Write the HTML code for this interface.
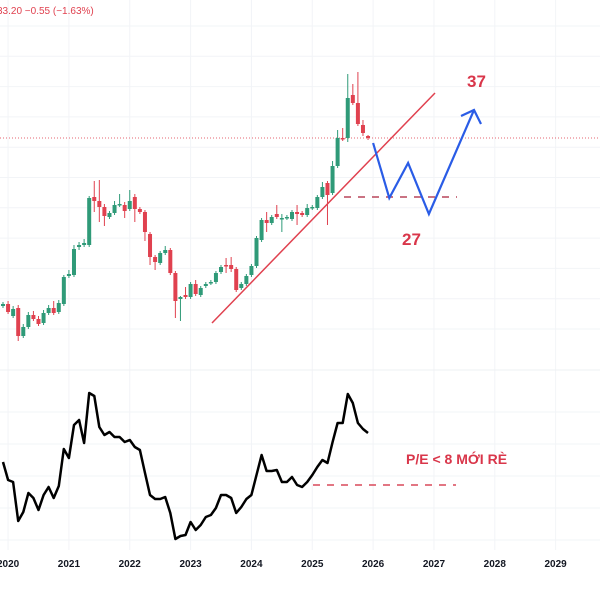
<!DOCTYPE html>
<html><head><meta charset="utf-8"><style>
html,body{margin:0;padding:0;background:#fff;}
svg{display:block;font-family:"Liberation Sans",sans-serif;}
</style></head><body>
<svg id="chart" width="600" height="600" viewBox="0 0 600 600" xmlns="http://www.w3.org/2000/svg">
<rect width="600" height="600" fill="#fff"/>
<g id="grid"></g>
<g id="candles"></g>
<g id="pe"></g>
<g id="annot"></g>
<g id="axis"></g>
<text x="-3" y="14" font-size="10" fill="#e0414f">33.20  −0.55 (−1.63%)</text>
</svg>
<script>
// data (monthly, Dec 2019 .. Dec 2025)
const years = ["2020","2021","2022","2023","2024","2025","2026","2027","2028","2029"];
const opens = [16.4,16.6,15.4,16.2,13.4,14.3,15.5,15.1,14.7,15.7,16.2,15.8,16.6,19.4,19.5,22.3,22.5,22.5,27.3,26.9,26.3,25.3,25.7,26.5,26.5,26.1,27.3,26.1,25.8,23.6,21.3,20.7,21.7,22.0,19.7,17.1,17.5,17.3,18.6,17.5,18.4,18.7,18.8,19.8,20.5,20.5,20.1,18.2,18.6,19.5,20.4,23.0,25.0,24.7,25.6,25.1,25.2,25.1,25.8,25.7,25.5,26.2,26.2,27.3,28.7,27.7,30.4,33.2,33.2,37.5,36.7,34.5,33.4];
const closes = [16.6,15.8,16.1,13.4,14.3,15.5,15.1,14.6,15.7,16.2,15.7,16.7,19.3,19.6,22.1,22.5,22.7,27.2,26.9,26.3,25.4,25.7,26.5,26.6,25.9,26.9,26.1,25.8,23.8,21.3,20.8,21.7,22.0,19.7,16.9,17.3,17.3,18.6,17.6,18.2,18.6,18.8,19.7,20.3,20.4,20.1,18.0,18.6,19.4,20.4,23.2,25.0,24.7,25.3,25.3,25.2,25.3,25.8,25.6,25.5,26.2,26.3,27.3,28.3,27.5,30.4,33.2,33.1,37.2,36.7,34.6,33.7,33.2];
const highs = [16.8,16.9,16.4,16.5,14.6,15.8,15.9,15.4,16.0,16.5,16.9,17.0,19.5,20.0,22.5,22.8,23.1,27.4,28.9,29.0,26.6,25.9,26.9,27.6,26.8,28.0,27.6,26.3,26.0,23.8,21.5,21.9,22.4,22.2,19.9,17.4,18.3,18.8,19.0,18.4,18.8,19.0,19.9,20.5,21.2,21.3,20.3,18.8,19.6,20.6,23.4,25.2,25.8,25.5,26.5,25.6,25.5,26.0,26.5,25.9,26.6,26.5,27.5,28.8,28.9,30.9,34.0,34.2,39.6,38.6,39.8,35.0,33.5];
const lows = [16.2,15.6,15.2,12.9,13.2,14.1,14.9,14.4,14.5,15.5,15.5,15.6,16.4,19.2,19.3,22.0,22.3,22.3,25.8,24.8,24.4,25.1,25.5,26.3,25.2,25.9,24.8,25.6,22.9,20.5,20.0,20.5,21.5,19.5,15.2,14.9,17.1,17.1,17.4,17.3,18.2,18.5,18.6,19.6,19.7,19.8,17.8,18.0,18.4,19.3,20.2,22.8,23.8,24.5,25.1,23.8,25.0,24.9,24.5,25.3,25.3,26.0,26.0,27.1,24.5,27.5,30.2,32.9,32.8,36.5,34.4,33.4,33.0];
const peValues = [10.3,8.5,8.3,4.4,5.3,7.2,6.7,5.5,7.0,7.8,6.7,7.9,11.6,10.7,14.0,14.5,12.2,17.2,16.9,13.8,13.0,13.3,12.8,12.8,12.3,12.5,11.8,11.5,9.2,7.0,6.6,6.6,6.8,5.2,2.6,2.9,3.0,4.3,3.5,4.0,4.8,5.0,5.7,7.0,7.0,6.7,5.2,5.8,6.6,7.0,9.0,11.0,9.4,9.4,9.5,8.3,8.3,8.8,8.0,7.8,8.3,9.0,9.8,10.5,10.2,12.3,14.2,14.2,17.1,16.2,14.2,13.6,13.2];
const lastPrice = 33.2, targetHigh = 37, targetLow = 27, peThreshold = 8;
const forecastMonths = [0,3.2,6.9,11,19.9];      // months after last candle
const forecastPrices = [32.7,27.2,30.7,25.6,36.0];

const NS="http://www.w3.org/2000/svg";
const xM = i => 3 + i*5.07;            // month index -> x
const yP = p => 470 - p*10;            // price -> y
const yE = v => 565 - v*10;            // P/E -> y
function mk(tag, attrs, parent){const e=document.createElementNS(NS,tag);for(const k in attrs)e.setAttribute(k,attrs[k]);parent.appendChild(e);return e;}
const grid=document.getElementById('grid'), cg=document.getElementById('candles'), pg=document.getElementById('pe'), ag=document.getElementById('annot'), xg=document.getElementById('axis');

// grid
for(let y=26;y<=340;y+=30.3){const l=mk('line',{x1:0,x2:600,y1:y,y2:y,stroke:'#f2f4f7','stroke-width':1},grid);

}
for(let y=412;y<=545;y+=32){const l=mk('line',{x1:0,x2:600,y1:y,y2:y,stroke:'#f2f4f7','stroke-width':1},grid);

}
years.forEach((yr,k)=>{const x=xM(1+k*12);
const l=mk('line',{x1:x,x2:x,y1:0,y2:550,stroke:'#f2f4f7','stroke-width':1},grid);


const t=mk('text',{x:x,y:567,'text-anchor':'middle','font-size':10,'font-weight':'bold',fill:'#131722'},xg);t.textContent=yr;

});
const sep=mk('line',{x1:0,x2:600,y1:370,y2:370,stroke:'#eef0f3','stroke-width':1},grid);



// last price dotted line
const lp=mk('line',{x1:0,x2:600,y1:yP(lastPrice),y2:yP(lastPrice),stroke:'#e0414f','stroke-width':1,'stroke-dasharray':'1 2',opacity:0.8},cg);



// candles
opens.forEach((o,i)=>{const c=closes[i];const up=c>=o;const col=up?'#2f9a78':'#e0414f';const x=xM(i);
const hi=Math.max(highs[i],o,c), lo=Math.min(lows[i],o,c);
const w=mk('line',{x1:x,x2:x,y1:yP(hi),y2:yP(lo),stroke:col,'stroke-width':1},cg);


const top=yP(Math.max(o,c)), h=Math.max(1.5,Math.abs(yP(o)-yP(c)));
const b=mk('rect',{x:x-2,y:top,width:4,height:h,fill:col},cg);

});

// P/E line
const pts=peValues.map((v,i)=>xM(i).toFixed(1)+','+yE(v).toFixed(1)).join(' ');
const pl=mk('polyline',{points:pts,fill:'none',stroke:'#000','stroke-width':2.5,'stroke-linejoin':'round'},pg);


const pd=mk('line',{x1:313,x2:456,y1:yE(peThreshold),y2:yE(peThreshold),stroke:'#d9485a','stroke-width':1.5,'stroke-dasharray':'7 7'},pg);


const pt=mk('text',{x:406,y:464,'font-size':14,'font-weight':'bold',fill:'#d9364a'},pg);pt.textContent='P/E < 8 MỚI RÈ';



// trendline
const tl=mk('line',{x1:212,y1:323,x2:435,y2:93,stroke:'#e0414f','stroke-width':1.5},ag);


// support dashed
const sd=mk('line',{x1:344,x2:457,y1:yP(targetLow)-3,y2:yP(targetLow)-3,stroke:'#b8455a','stroke-width':1.5,'stroke-dasharray':'7 7'},ag);


// forecast path
const last=opens.length-1;
const fp=forecastMonths.map((m,k)=>(xM(last+1)+m*5.07).toFixed(1)+','+yP(forecastPrices[k]).toFixed(1)).join(' ');
const fl=mk('polyline',{points:fp,fill:'none',stroke:'#2a5ce6','stroke-width':2.2,'stroke-linejoin':'miter'},ag);


const ex=xM(last+1)+forecastMonths[4]*5.07, ey=yP(forecastPrices[4]);
const ah=mk('polyline',{points:`${ex-13},${ey+6} ${ex},${ey} ${ex+7},${ey+14}`,fill:'none',stroke:'#2a5ce6','stroke-width':2.2},ag);


const t37=mk('text',{x:467,y:87,'font-size':17,'font-weight':'bold',fill:'#d9364a'},ag);t37.textContent=String(targetHigh);


const t27=mk('text',{x:402,y:245,'font-size':17,'font-weight':'bold',fill:'#d9364a'},ag);t27.textContent=String(targetLow);


</script>
</body></html>
